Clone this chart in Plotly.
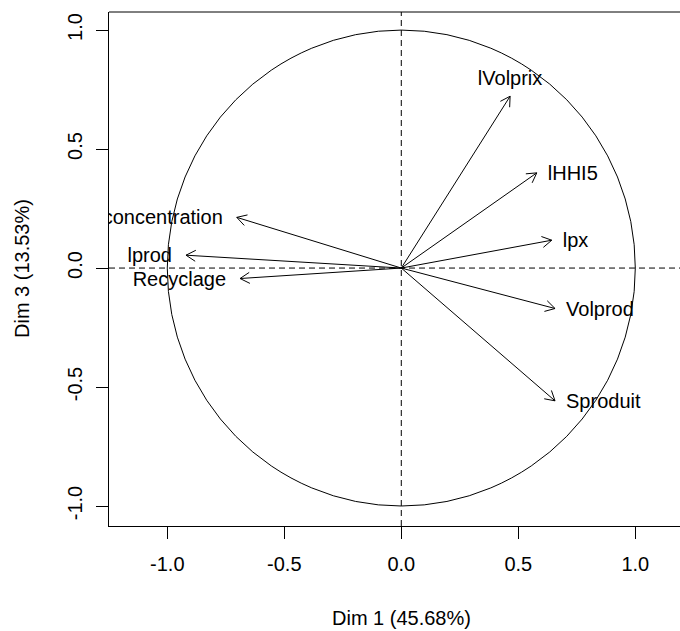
import math
import plotly.graph_objects as go

# ---- data ----
variables = ["lVolprix", "lHHI5", "lpx", "Volprod", "Sproduit",
             "concentration", "lprod", "Recyclage"]
dim1 = [0.465, 0.579, 0.643, 0.657, 0.657, -0.703, -0.920, -0.689]
dim3 = [0.722, 0.400, 0.117, -0.170, -0.558, 0.213, 0.054, -0.044]
tick_vals = [-1.0, -0.5, 0.0, 0.5, 1.0]
tick_text = ["-1.0", "-0.5", "0.0", "0.5", "1.0"]
x_title = "Dim 1 (45.68%)"
y_title = "Dim 3 (13.53%)"

# ---- geometry / style ----
W, H = 680, 631
ML, MT, MB, MR = 109, 12, 105, 0
XR = [-1.249, 1.191]
YR = [-1.084, 1.076]
px_x = (W - ML - MR) / (XR[1] - XR[0])   # pixels per unit
px_y = (H - MT - MB) / (YR[1] - YR[0])
FONT = "Liberation Sans, Arial, sans-serif"
FS = 20

fig = go.Figure()

# arrows: shafts + open heads
hx, hy = [], []
head_len = 11.0
for x, y in zip(dim1, dim3):
    hx += [0, x, None]
    hy += [0, y, None]
    # work in pixel space for the head
    ang = math.atan2(y * px_y, x * px_x)
    for da in (math.radians(30), -math.radians(30)):
        a = ang + math.pi + da
        hx += [x, x + head_len * math.cos(a) / px_x, None]
        hy += [y, y + head_len * math.sin(a) / px_y, None]
fig.add_trace(go.Scatter(x=hx, y=hy, mode="lines",
                         line=dict(color="black", width=1),
                         hoverinfo="skip", showlegend=False))

# labels (FactoMineR-style placement)
for name, x, y in zip(variables, dim1, dim3):
    if abs(y) > abs(x):
        pos = "top center" if y > 0 else "bottom center"
        lx, ly = x, y + (6 / px_y) * (1 if y > 0 else -1)
    elif x > 0:
        pos = "middle right"
        lx, ly = x + 11 / px_x, y - 2 / px_y
    else:
        pos = "middle left"
        lx, ly = x - 14 / px_x, y - 2 / px_y
    fig.add_trace(go.Scatter(x=[lx], y=[ly], mode="text", text=[name],
                             textposition=pos, cliponaxis=True,
                             textfont=dict(family=FONT, size=FS, color="black"),
                             hoverinfo="skip", showlegend=False))

# unit circle
fig.add_shape(type="circle", xref="x", yref="y", x0=-1, y0=-1, x1=1, y1=1,
              line=dict(color="black", width=1))
# dashed axes through the origin
fig.add_shape(type="line", xref="paper", yref="y", x0=0, x1=1, y0=0, y1=0,
              line=dict(color="black", width=1, dash="6px,4px"))
fig.add_shape(type="line", xref="x", yref="paper", x0=0, x1=0, y0=0, y1=1,
              line=dict(color="black", width=1, dash="6px,4px"))
# top border of the box
fig.add_shape(type="line", xref="paper", yref="paper", x0=0, x1=1, y0=1, y1=1,
              line=dict(color="black", width=1))

axis_common = dict(showgrid=False, zeroline=False, showline=True,
                   linecolor="black", linewidth=1, ticks="outside",
                   ticklen=12, tickwidth=1, tickcolor="black",
                   tickvals=tick_vals, ticktext=tick_text,
                   tickfont=dict(family=FONT, size=FS, color="black"))

fig.update_layout(
    width=W, height=H,
    margin=dict(l=ML, r=MR, t=MT, b=MB),
    paper_bgcolor="white", plot_bgcolor="white",
    xaxis=dict(range=XR, ticklabelstandoff=8, **axis_common),
    yaxis=dict(range=YR, tickangle=-90, ticklabelstandoff=6, **axis_common),
    annotations=[
        dict(text=x_title, xref="paper", yref="paper",
             x=(401 - ML) / (W - ML - MR), y=0, yshift=-92,
             xanchor="center", yanchor="middle", showarrow=False,
             font=dict(family=FONT, size=FS, color="black")),
        dict(text=y_title, xref="paper", yref="paper",
             x=0, y=0.5, xshift=-87, textangle=-90,
             xanchor="center", yanchor="middle", showarrow=False,
             font=dict(family=FONT, size=FS, color="black")),
    ],
)

fig.write_html("out.html")
